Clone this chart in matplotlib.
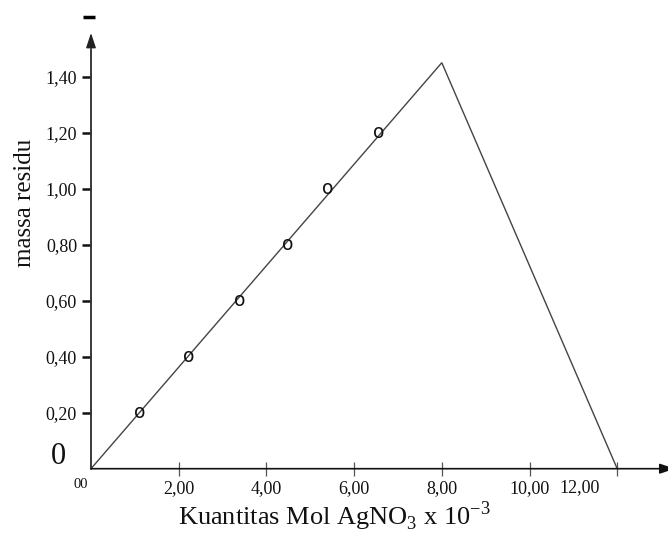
import matplotlib
matplotlib.use('Agg')
import matplotlib.pyplot as plt

plt.rcParams['font.family'] = ['Liberation Serif', 'DejaVu Serif']
plt.rcParams['mathtext.fontset'] = 'custom'
plt.rcParams['mathtext.rm'] = 'Liberation Serif'

# data
mol_points = [1.10, 2.22, 3.38, 4.48, 5.39, 6.57]
massa_points = [0.20, 0.40, 0.60, 0.80, 1.00, 1.20]
line_x = [0, 8, 12]
line_y = [0, 1.45, 0]
x_ticks = [2, 4, 6, 8, 10, 12]
x_labels = ['2,00', '4,00', '6,00', '8,00', '10,00', '']
y_ticks = [0.2, 0.4, 0.6, 0.8, 1.0, 1.2, 1.4]
y_labels = ['0,20', '0,40', '0,60', '0,80', '1,00', '1,20', '1,40']

W, H = 668, 533
fig = plt.figure(figsize=(W / 100, H / 100), dpi=100)
ax = fig.add_axes([91 / W, (H - 468.7) / H, 577 / W, 435.7 / H])
ax.set_xlim(0, 577 / 43.85)
ax.set_ylim(0, 435.7 / 280)

for s in ax.spines.values():
    s.set_visible(False)

# triangle line and data markers (letter "o" like the original)
ax.plot(line_x, line_y, color='#444444', lw=1.0, solid_joinstyle='miter')
for mx, my in zip(mol_points, massa_points):
    ax.text(mx, my, 'o', ha='center', va='center', fontsize=13.5,
            family='DejaVu Sans', color='#111111')

# axes with arrows
ax.annotate('', xy=(0, 1.0), xytext=(0, 0), xycoords='axes fraction',
            arrowprops=dict(arrowstyle='-|>,head_length=0.9,head_width=0.3',
                            color='#222222', lw=1.0, shrinkA=0, shrinkB=0),
            annotation_clip=False)
ax.plot([0, 0], [0, 0.96], transform=ax.transAxes, color='#666666', lw=1.2,
        clip_on=False)
ax.annotate('', xy=(1.012, 0), xytext=(0, 0), xycoords='axes fraction',
            arrowprops=dict(arrowstyle='-|>,head_length=0.9,head_width=0.3',
                            color='#111111', lw=1.2, shrinkA=0, shrinkB=0),
            annotation_clip=False)
ax.plot([-0.0139, 0.0069], [1.037, 1.037], transform=ax.transAxes,
        color='black', lw=2.5, clip_on=False, solid_capstyle='butt')

ax.set_yticks(y_ticks)
ax.set_yticklabels(y_labels)
ax.set_xticks(x_ticks)
ax.set_xticklabels(x_labels)
ax.tick_params(axis='y', direction='out', length=6.5, width=1.8, pad=3.5,
               labelsize=13, colors='#111111')
ax.tick_params(axis='x', direction='inout', length=10, width=0.9, pad=3,
               labelsize=13, color='#555555', labelcolor='#111111')

ax.text(11.15, -0.0443, '12,00', transform=ax.get_xaxis_transform(),
        ha='center', va='center', fontsize=13, color='#111111')

fig.text(25 / W, 1 - 203 / H, 'massa residu', rotation=90, ha='center',
         va='center', fontsize=18, color='#111111')
fig.text(334 / W, (H - 525) / H, r'Kuantitas Mol AgNO$_3$ x 10$^{-3}$',
         ha='center', va='baseline', fontsize=19, color='#111111')
fig.text(58 / W, 1 - 457 / H, '0', ha='center', va='center', fontsize=22,
         color='#111111')
fig.text(81 / W, 1 - 484 / H, '00', ha='center', va='center', fontsize=10.5,
         color='#111111')

fig.savefig('out.png', dpi=100)
